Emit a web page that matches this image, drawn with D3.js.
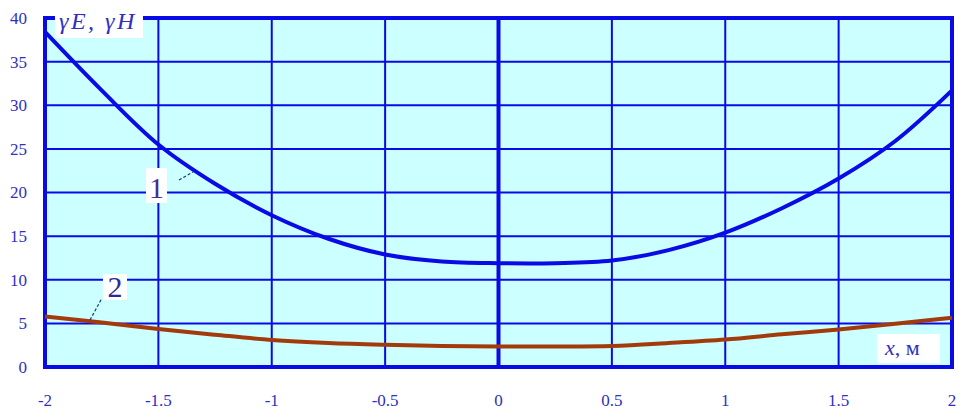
<!DOCTYPE html>
<html><head><meta charset="utf-8">
<script src="https://cdn.jsdelivr.net/npm/d3@7"></script>
<style>
html,body{margin:0;padding:0;background:#fff;}
svg{display:block;}
</style></head>
<body>
<svg id="c" width="967" height="417"></svg>
<script>
// ---- data ----
const xValues = [-2,-1.75,-1.5,-1.25,-1,-0.75,-0.5,-0.25,0,0.25,0.5,0.75,1,1.25,1.5,1.75,2];
const curve1 = [38.4,31.7,25.5,21.0,17.4,14.7,12.9,12.1,11.9,11.9,12.2,13.4,15.4,18.2,21.6,25.9,31.7];
const curve2 = [5.8,5.1,4.35,3.7,3.1,2.75,2.55,2.42,2.35,2.35,2.42,2.75,3.15,3.75,4.3,4.95,5.65];
const xTicks = [-2,-1.5,-1,-0.5,0,0.5,1,1.5,2];
const xTickLabels = ["-2","-1.5","-1","-0.5","0","0.5","1","1.5","2"];
const yTicks = [0,5,10,15,20,25,30,35,40];
const yTickLabels = ["0","5","10","15","20","25","30","35","40"];
const seriesLabels = ["1","2"];

// ---- drawing ----
const svg = d3.select("#c");
const x = d3.scaleLinear().domain([-2,2]).range([45,952]);
const y = d3.scaleLinear().domain([0,40]).range([367,18]);
const blue = "#0a0ae6";
const textBlue = "#3030c0";
const serif = "'Liberation Serif','Times New Roman',serif";

svg.append("rect").attr("x",x(-2)).attr("y",y(40))
  .attr("width",x(2)-x(-2)).attr("height",y(0)-y(40)).attr("fill","#ccffff");

// grid
svg.append("g").selectAll("line").data(xTicks).join("line")
  .attr("x1",d=>x(d)).attr("x2",d=>x(d)).attr("y1",y(40)).attr("y2",y(0))
  .attr("stroke",blue).attr("stroke-width",d=>d===0?4:2);
svg.append("g").selectAll("line").data(yTicks).join("line")
  .attr("x1",x(-2)).attr("x2",x(2)).attr("y1",d=>y(d)).attr("y2",d=>y(d))
  .attr("stroke",blue).attr("stroke-width",2);

// border
svg.append("rect").attr("x",x(-2)).attr("y",y(40))
  .attr("width",x(2)-x(-2)).attr("height",y(0)-y(40))
  .attr("fill","none").attr("stroke",blue).attr("stroke-width",4);

// curves
const line = d3.line().x(d=>x(d[0])).y(d=>y(d[1])).curve(d3.curveCatmullRom.alpha(0.5));
svg.append("path").datum(xValues.map((v,i)=>[v,curve1[i]]))
  .attr("d",line).attr("fill","none").attr("stroke",blue).attr("stroke-width",4);
svg.append("path").datum(xValues.map((v,i)=>[v,curve2[i]]))
  .attr("d",line).attr("fill","none").attr("stroke","#a33a0c").attr("stroke-width",4);

// tick labels
svg.append("g").selectAll("text").data(yTicks).join("text")
  .attr("x",27).attr("y",d=>y(d)).attr("dy","0.35em")
  .attr("text-anchor","end").attr("font-family",serif).attr("font-size",17)
  .attr("fill",textBlue).text((d,i)=>yTickLabels[i]);
svg.append("g").selectAll("text").data(xTicks).join("text")
  .attr("x",d=>x(d)).attr("y",400).attr("dy","0.35em")
  .attr("text-anchor","middle").attr("font-family",serif).attr("font-size",17)
  .attr("fill",textBlue).text((d,i)=>xTickLabels[i]);

// axis titles
svg.append("rect").attr("x",55).attr("y",10).attr("width",88).attr("height",28).attr("fill","#fff");
svg.append("text").attr("x",59).attr("y",29).attr("font-family",serif)
  .attr("font-size",24).attr("font-style","italic").attr("letter-spacing",2.5).attr("fill",textBlue)
  .text("γE, γH");

svg.append("rect").attr("x",877).attr("y",334).attr("width",63).attr("height",29).attr("fill","#fff");
const xt = svg.append("text").attr("x",885).attr("y",355).attr("font-family",serif)
  .attr("font-size",22).attr("fill",textBlue);
xt.append("tspan").attr("font-style","italic").text("x");
xt.append("tspan").text(", м");

// series labels with leaders
svg.append("line").attr("x1",179).attr("y1",180).attr("x2",193).attr("y2",172)
  .attr("stroke","#203080").attr("stroke-width",1.2).attr("stroke-dasharray","3,2");
svg.append("rect").attr("x",146).attr("y",168).attr("width",21).attr("height",35).attr("fill","#fff");
svg.append("text").attr("x",156.5).attr("y",198).attr("text-anchor","middle")
  .attr("font-family",serif).attr("font-size",30).attr("fill","#4a2a8a").text(seriesLabels[0]);

svg.append("line").attr("x1",90).attr("y1",320).attr("x2",102).attr("y2",298)
  .attr("stroke","#203080").attr("stroke-width",1.2).attr("stroke-dasharray","3,2");
svg.append("rect").attr("x",103).attr("y",274).attr("width",24).attr("height",26).attr("fill","#fff");
svg.append("text").attr("x",115).attr("y",297).attr("text-anchor","middle")
  .attr("font-family",serif).attr("font-size",30).attr("fill","#2a2a9a").text(seriesLabels[1]);
</script>
</body></html>
